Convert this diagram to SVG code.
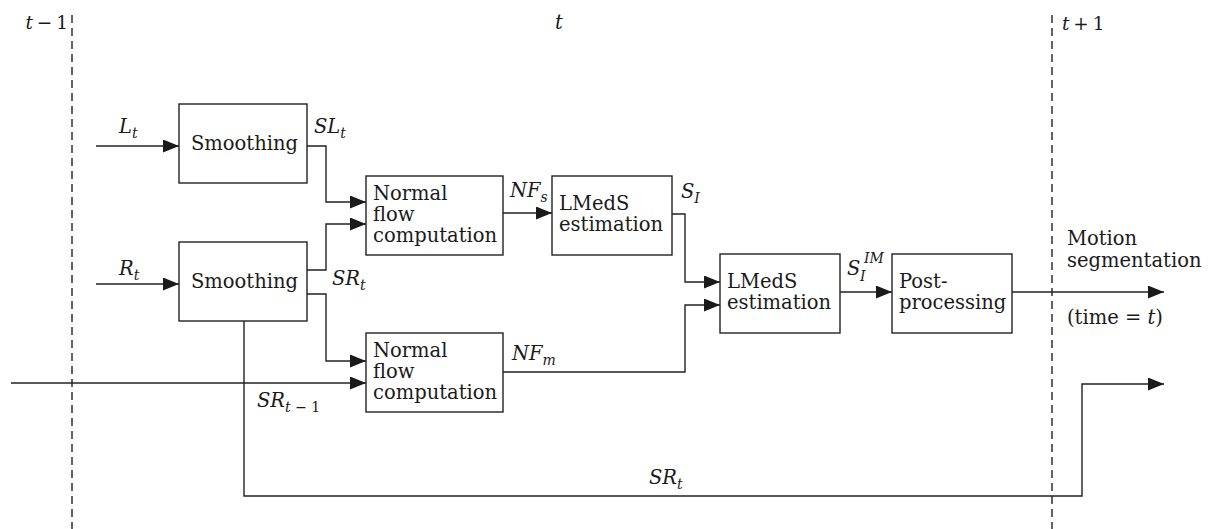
<svg xmlns="http://www.w3.org/2000/svg" width="1208" height="529" viewBox="0 0 1208 529">
  <style>
    .box { fill: #ffffff; stroke: #222222; stroke-width: 1.4; }
    .lbl { font-family: "DejaVu Serif", "Liberation Serif", serif; font-size: 19.5px; fill: #1a1a1a; }
    .math { font-family: "DejaVu Serif", "Liberation Serif", serif; font-size: 19.5px; font-style: italic; fill: #1a1a1a; }
    .tick { font-size: 18.5px; }
    .sub { font-size: 14px; }
    .up { font-style: normal; }
    .wire { fill: none; stroke: #222222; stroke-width: 1.4; }
    .time { fill: none; stroke: #222222; stroke-width: 1.4; stroke-dasharray: 8 5; }
  </style>
  <defs>
    <marker id="arrow" markerUnits="userSpaceOnUse" markerWidth="16" markerHeight="13" refX="16" refY="6.5" orient="auto">
      <path d="M0,0 L16,6.5 L0,13 Z" fill="#1a1a1a"/>
    </marker>
  </defs>

  <rect width="1208" height="529" fill="#ffffff"/>

  <!-- time boundaries -->
  <g id="time-axis">
    <path class="time" d="M72,15 V529"/>
    <path class="time" d="M1052,15 V529"/>
    <text class="math tick" x="68" y="29" text-anchor="end">t<tspan class="up" dx="-2"> − </tspan><tspan class="up" dx="-2">1</tspan></text>
    <text class="math" x="555" y="29">t</text>
    <text class="math tick" x="1062" y="30">t<tspan class="up" dx="-2"> + </tspan><tspan class="up" dx="-2">1</tspan></text>
  </g>

  <!-- connectors -->
  <g id="connectors">
    <path class="wire" d="M96,146 H179" marker-end="url(#arrow)"/>
    <path class="wire" d="M96,284 H179" marker-end="url(#arrow)"/>
    <path class="wire" d="M307,146 H326 V202 H366" marker-end="url(#arrow)"/>
    <path class="wire" d="M307,270 H326 V224 H366" marker-end="url(#arrow)"/>
    <path class="wire" d="M307,294 H326 V361 H366" marker-end="url(#arrow)"/>
    <path class="wire" d="M11,383 H366" marker-end="url(#arrow)"/>
    <path class="wire" d="M503,213 H552" marker-end="url(#arrow)"/>
    <path class="wire" d="M672,214 H685 V282 H720" marker-end="url(#arrow)"/>
    <path class="wire" d="M503,372 H685 V305 H720" marker-end="url(#arrow)"/>
    <path class="wire" d="M840,292 H892" marker-end="url(#arrow)"/>
    <path class="wire" d="M1012,292 H1164" marker-end="url(#arrow)"/>
    <path class="wire" d="M244,321 V496 H1082 V384 H1164" marker-end="url(#arrow)"/>
  </g>

  <!-- signal labels -->
  <g id="signal-labels">
    <text class="math" x="119" y="133">L<tspan class="sub" dy="5">t</tspan></text>
    <text class="math" x="314" y="133">SL<tspan class="sub" dy="5">t</tspan></text>
    <text class="math" x="119" y="275">R<tspan class="sub" dy="5">t</tspan></text>
    <text class="math" x="332" y="285">SR<tspan class="sub" dy="5">t</tspan></text>
    <text class="math" x="510" y="197">NF<tspan class="sub" dy="5">s</tspan></text>
    <text class="math" x="681" y="198">S<tspan class="sub" dy="5">I</tspan></text>
    <text class="math" x="847" y="275">S</text>
    <text class="math sub" x="860" y="281">I</text>
    <text class="math sub" x="864" y="263">IM</text>
    <text class="math" x="512" y="360">NF<tspan class="sub" dy="5">m</tspan></text>
    <text class="math" x="257" y="407">SR<tspan class="sub" dy="5">t<tspan class="up"> − 1</tspan></tspan></text>
    <text class="math" x="649" y="484">SR<tspan class="sub" dy="5">t</tspan></text>
    <text class="lbl" x="1067" y="245">Motion</text>
    <text class="lbl" x="1067" y="267">segmentation</text>
    <text class="lbl" x="1067" y="324">(time = <tspan class="math">t</tspan>)</text>
  </g>

  <!-- processing blocks -->
  <g id="smoothing-left">
    <rect class="box" x="179" y="104" width="128" height="79"/>
    <text class="lbl" x="191" y="150">Smoothing</text>
  </g>
  <g id="smoothing-right">
    <rect class="box" x="179" y="242" width="128" height="79"/>
    <text class="lbl" x="191" y="288">Smoothing</text>
  </g>
  <g id="normal-flow-stereo">
    <rect class="box" x="366" y="176" width="137" height="79"/>
    <text class="lbl" x="373" y="200">Normal</text>
    <text class="lbl" x="373" y="221">flow</text>
    <text class="lbl" x="373" y="242">computation</text>
  </g>
  <g id="normal-flow-motion">
    <rect class="box" x="366" y="333" width="137" height="79"/>
    <text class="lbl" x="373" y="357">Normal</text>
    <text class="lbl" x="373" y="378">flow</text>
    <text class="lbl" x="373" y="399">computation</text>
  </g>
  <g id="lmeds-stereo">
    <rect class="box" x="552" y="176" width="120" height="79"/>
    <text class="lbl" x="559" y="210">LMedS</text>
    <text class="lbl" x="559" y="231">estimation</text>
  </g>
  <g id="lmeds-motion">
    <rect class="box" x="720" y="254" width="120" height="79"/>
    <text class="lbl" x="727" y="288">LMedS</text>
    <text class="lbl" x="727" y="309">estimation</text>
  </g>
  <g id="post-processing">
    <rect class="box" x="892" y="254" width="120" height="79"/>
    <text class="lbl" x="899" y="288">Post-</text>
    <text class="lbl" x="899" y="309">processing</text>
  </g>
</svg>
